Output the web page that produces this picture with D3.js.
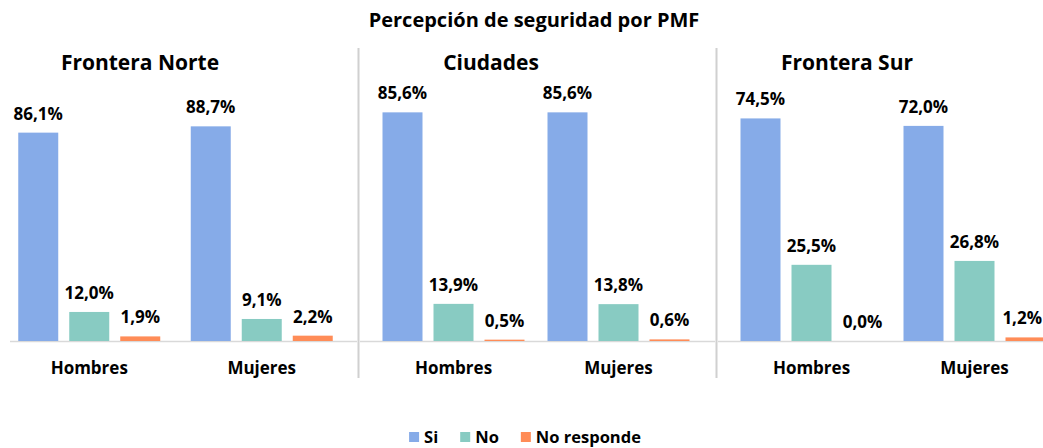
<!DOCTYPE html>
<html>
<head>
<meta charset="utf-8">
<script src="https://cdn.jsdelivr.net/npm/d3@7"></script>
<style>
  body { margin: 0; background: #fff; }
  text { font-family: "Open Sans", sans-serif; font-weight: bold; fill: #000; }
</style>
</head>
<body>
<script>
// datos del grafico
const title = 'Percepción de seguridad por PMF';
const regions = ['Frontera Norte', 'Ciudades', 'Frontera Sur'];
const categories = ['Hombres', 'Mujeres'];
const series = ['Si', 'No', 'No responde'];
const colors = ['#86abe8', '#88cbc2', '#ff8c57'];

// valores por region: [Hombres, Mujeres] x [Si, No, No responde]
const valuesNorte = [[86.1, 12.0, 1.9], [88.7, 9.1, 2.2]];
const valuesCiudades = [[85.6, 13.9, 0.5], [85.6, 13.8, 0.6]];
const valuesSur = [[74.5, 25.5, 0.0], [72.0, 26.8, 1.2]];
const axisMax = [100, 90.6, 81];

const allValues = [valuesNorte, valuesCiudades, valuesSur];

// disposicion de cada panel
const panels = [
  { x0: 3, x1: 348, lineX0: 10, lineX1: 357, titleX: 140 },
  { x0: 371, x1: 701, lineX0: 360, lineX1: 715, titleX: 491 },
  { x0: 730, x1: 1056, lineX0: 718, lineX1: 1043, titleX: 847 }
];

const width = 1043, height = 448;
const baseY = 341, topY = 99;

const locale = d3.formatLocale({ decimal: ',', thousands: '.', grouping: [3], currency: ['', ''] });
const fmt = locale.format('.1f');

const svg = d3.select('body').append('svg')
  .attr('width', width)
  .attr('height', height);

svg.append('rect').attr('width', width).attr('height', height).attr('fill', '#fff');

// titulo general
svg.append('text')
  .attr('x', 534)
  .attr('y', 27)
  .attr('text-anchor', 'middle')
  .style('font-size', '20px')
  .text(title);

// separadores
[358.5, 716.5].forEach(function(x) {
  svg.append('line')
    .attr('x1', x).attr('x2', x)
    .attr('y1', 48).attr('y2', 378)
    .attr('stroke', '#d0d0d0')
    .attr('stroke-width', 2);
});

const inner = d3.scaleBand()
  .domain(series)
  .range([-71, 71])
  .paddingInner(0.2157);

panels.forEach(function(p, i) {
  const g = svg.append('g');
  const x0 = d3.scaleBand().domain(categories).range([p.x0, p.x1]);
  const y = d3.scaleLinear().domain([0, axisMax[i]]).range([baseY, topY]);

  g.append('text')
    .attr('x', p.titleX)
    .attr('y', 70)
    .attr('text-anchor', 'middle')
    .style('font-size', '21px')
    .text(regions[i]);

  g.append('line')
    .attr('x1', p.lineX0).attr('x2', p.lineX1)
    .attr('y1', baseY + 0.5).attr('y2', baseY + 0.5)
    .attr('stroke', '#d9d9d9')
    .attr('stroke-width', 1.5);

  categories.forEach(function(cat, ci) {
    const cx = x0(cat) + x0.bandwidth() / 2;
    const data = allValues[i][ci].map(function(v, si) { return { s: series[si], v: v, c: colors[si] }; });

    g.selectAll('rect.b' + ci)
      .data(data)
      .enter().append('rect')
      .attr('class', 'b' + ci)
      .attr('x', function(d) { return cx + inner(d.s); })
      .attr('y', function(d) { return y(d.v); })
      .attr('width', inner.bandwidth())
      .attr('height', function(d) { return baseY - y(d.v); })
      .attr('fill', function(d) { return d.c; });

    g.selectAll('text.l' + ci)
      .data(data)
      .enter().append('text')
      .attr('class', 'l' + ci)
      .attr('x', function(d) { return cx + inner(d.s) + inner.bandwidth() / 2; })
      .attr('y', function(d) { return y(d.v) - 13; })
      .attr('text-anchor', 'middle')
      .style('font-size', '17px')
      .text(function(d) { return fmt(d.v) + '%'; })
      .each(function() {
        // que no se salga del borde derecho
        const w = this.getComputedTextLength();
        const x = +this.getAttribute('x');
        if (x + w / 2 > width - 1) this.setAttribute('x', width - 1 - w / 2);
      });

    g.append('text')
      .attr('x', cx)
      .attr('y', 374)
      .attr('text-anchor', 'middle')
      .style('font-size', '17px')
      .text(cat);
  });
});

// leyenda
const legend = svg.append('g');
let lx = 0;
series.forEach(function(s, i) {
  const item = legend.append('g').attr('transform', 'translate(' + lx + ',0)');
  item.append('rect')
    .attr('x', 0).attr('y', 432)
    .attr('width', 10).attr('height', 10)
    .attr('fill', colors[i]);
  const t = item.append('text')
    .attr('x', 15).attr('y', 443)
    .style('font-size', '16.5px')
    .text(s);
  lx += 15 + t.node().getComputedTextLength() + 22;
});
const legendW = lx - 22;
legend.attr('transform', 'translate(' + (525 - legendW / 2) + ',0)');
</script>
</body>
</html>
